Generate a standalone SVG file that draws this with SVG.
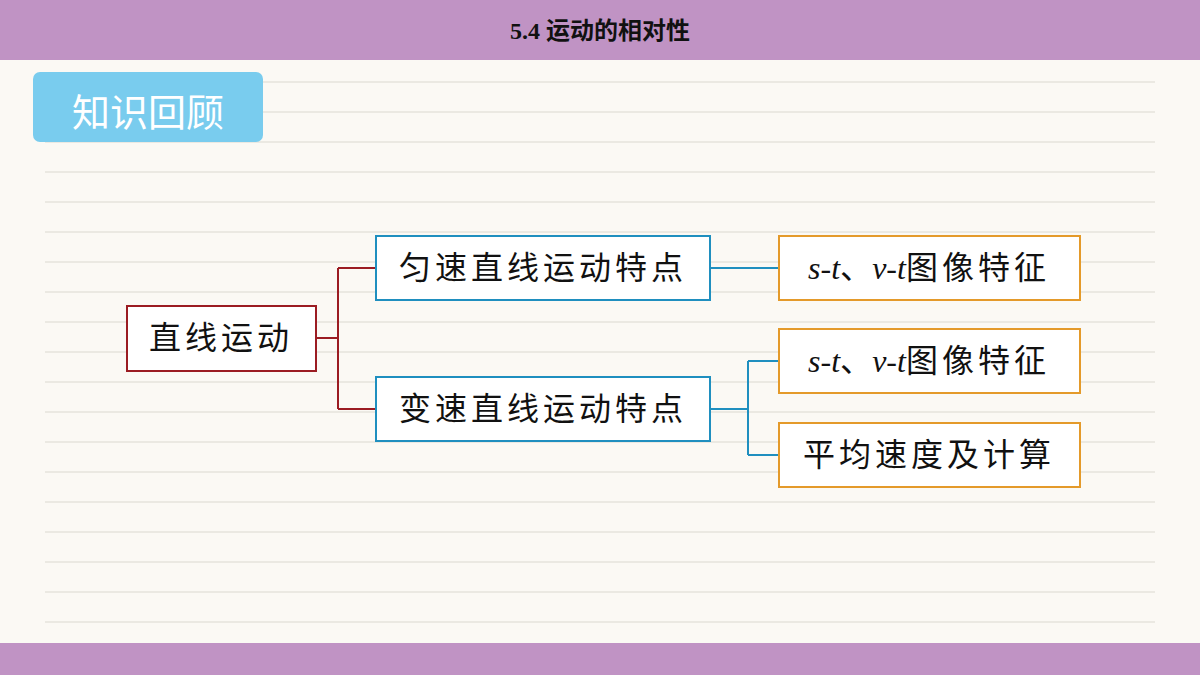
<svg xmlns="http://www.w3.org/2000/svg" width="1200" height="675" viewBox="0 0 1200 675">
<style>
.t{font-family:"Liberation Serif","Noto Sans CJK SC",serif;font-size:32px;fill:#111;dominant-baseline:central;text-anchor:middle}
.i{font-style:italic}
.red{fill:#fff;stroke:#9b1c22;stroke-width:2}
.blue{fill:#fff;stroke:#1f8fbf;stroke-width:2}
.org{fill:#fff;stroke:#e49a2a;stroke-width:2}
.ln{stroke:#e6e3dc;stroke-width:1.5}
</style>
<rect width="1200" height="675" fill="#fbf9f4"/>
<g id="lines">
<line class="ln" x1="45" y1="82" x2="1155" y2="82"/><line class="ln" x1="45" y1="112" x2="1155" y2="112"/><line class="ln" x1="45" y1="142" x2="1155" y2="142"/><line class="ln" x1="45" y1="172" x2="1155" y2="172"/><line class="ln" x1="45" y1="202" x2="1155" y2="202"/><line class="ln" x1="45" y1="232" x2="1155" y2="232"/><line class="ln" x1="45" y1="262" x2="1155" y2="262"/><line class="ln" x1="45" y1="292" x2="1155" y2="292"/><line class="ln" x1="45" y1="322" x2="1155" y2="322"/><line class="ln" x1="45" y1="352" x2="1155" y2="352"/><line class="ln" x1="45" y1="382" x2="1155" y2="382"/><line class="ln" x1="45" y1="412" x2="1155" y2="412"/><line class="ln" x1="45" y1="442" x2="1155" y2="442"/><line class="ln" x1="45" y1="472" x2="1155" y2="472"/><line class="ln" x1="45" y1="502" x2="1155" y2="502"/><line class="ln" x1="45" y1="532" x2="1155" y2="532"/><line class="ln" x1="45" y1="562" x2="1155" y2="562"/><line class="ln" x1="45" y1="592" x2="1155" y2="592"/><line class="ln" x1="45" y1="622" x2="1155" y2="622"/>
</g>
<rect x="0" y="0" width="1200" height="60" fill="#c093c4"/>
<text x="600" y="31" style="font-family:'Liberation Serif','Noto Sans CJK SC',serif;font-size:24px;font-weight:bold;text-anchor:middle;dominant-baseline:central" fill="#111">5.4 运动的相对性</text>
<rect x="0" y="643" width="1200" height="32" fill="#c093c4"/>
<g id="title">
<rect x="33" y="72" width="230" height="70" rx="7" fill="#79ccee"/>
<text x="148" y="109" style="font-family:'Noto Sans CJK SC',sans-serif;font-size:38px;fill:#fff;text-anchor:middle;dominant-baseline:central">知识回顾</text>
</g>
<g id="connectors" fill="none" stroke-width="2">
<path d="M316 338H338M338 268V409M338 268H376M338 409H376" stroke="#9b1c22"/>
<path d="M710 268H779M710 409H748M748 361V455M748 361H779M748 455H779" stroke="#1f8fbf"/>
</g>
<g id="n1"><rect class="red" x="127" y="306" width="189" height="65"/><text class="t" x="221" y="338" letter-spacing="4">直线运动</text></g>
<g id="n2"><rect class="blue" x="376" y="236" width="334" height="64"/><text class="t" x="543" y="268" letter-spacing="4">匀速直线运动特点</text></g>
<g id="n3"><rect class="blue" x="376" y="377" width="334" height="64"/><text class="t" x="543" y="409" letter-spacing="4">变速直线运动特点</text></g>
<g id="n4"><rect class="org" x="779" y="236" width="301" height="64"/><text class="t" x="929" y="268"><tspan class="i">s</tspan>-<tspan class="i">t</tspan>、<tspan class="i">v</tspan>-<tspan class="i">t</tspan><tspan letter-spacing="4">图像特征</tspan></text></g>
<g id="n5"><rect class="org" x="779" y="329" width="301" height="64"/><text class="t" x="929" y="361"><tspan class="i">s</tspan>-<tspan class="i">t</tspan>、<tspan class="i">v</tspan>-<tspan class="i">t</tspan><tspan letter-spacing="4">图像特征</tspan></text></g>
<g id="n6"><rect class="org" x="779" y="423" width="301" height="64"/><text class="t" x="929" y="455" letter-spacing="4">平均速度及计算</text></g>
</svg>
